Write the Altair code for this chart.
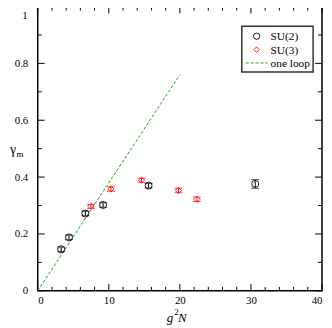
import altair as alt
import pandas as pd

# ---- data ----
su2_x = [3.3, 4.4, 6.7, 9.2, 15.6, 30.6]
su2_y = [0.146, 0.188, 0.272, 0.302, 0.370, 0.376]
su2_err = [0.008, 0.008, 0.008, 0.008, 0.008, 0.015]

su3_x = [7.5, 10.3, 14.6, 19.8, 22.4]
su3_y = [0.297, 0.358, 0.389, 0.353, 0.322]
su3_err = [0.007, 0.008, 0.007, 0.008, 0.008]

loop_x = [0, 20]
loop_y = [0, 0.76]

x_major = [0, 10, 20, 30, 40]
x_minor = [2, 4, 6, 8, 12, 14, 16, 18, 22, 24, 26, 28, 32, 34, 36, 38]
y_major = [0, 0.2, 0.4, 0.6, 0.8, 1.0]
y_minor = [0.1, 0.3, 0.5, 0.7, 0.9]

legend_labels = ["SU(2)", "SU(3)", "one loop"]

W, H = 287, 287
FONT = "Liberation Serif, Times New Roman, serif"

su2 = pd.DataFrame({"x": su2_x, "y": su2_y,
                    "lo": [a - b for a, b in zip(su2_y, su2_err)],
                    "hi": [a + b for a, b in zip(su2_y, su2_err)]})
su3 = pd.DataFrame({"x": su3_x, "y": su3_y,
                    "lo": [a - b for a, b in zip(su3_y, su3_err)],
                    "hi": [a + b for a, b in zip(su3_y, su3_err)]})
loop = pd.DataFrame({"x": loop_x, "y": loop_y})

xs = alt.Scale(domain=[0, 40], nice=False, zero=False)
ys = alt.Scale(domain=[0, 1], nice=False, zero=False)

X = alt.X("x:Q", scale=xs, axis=alt.Axis(values=x_major, title=None, ticks=False, tickSize=0,
                                         domain=False, grid=False, labelFont=FONT, labelFontSize=11,
                                         labelColor="black", labelPadding=4))
# the top label "1" is drawn as text below so that it is not cut at the page edge
Y = alt.Y("y:Q", scale=ys, axis=alt.Axis(values=y_major[:-1], title=None, ticks=False, tickSize=0,
                                         domain=False, grid=False, labelFont=FONT, labelFontSize=11,
                                         labelColor="black", labelPadding=10, format="~g"))


def errbars(df, color):
    base = alt.Chart(df)
    rule = base.mark_rule(color=color, strokeWidth=1).encode(
        x=alt.X("x:Q", scale=xs), y=alt.Y("lo:Q", scale=ys), y2="hi:Q")
    cap_lo = base.mark_tick(color=color, orient="horizontal", size=8, thickness=1).encode(
        x=alt.X("x:Q", scale=xs), y=alt.Y("lo:Q", scale=ys))
    cap_hi = base.mark_tick(color=color, orient="horizontal", size=8, thickness=1).encode(
        x=alt.X("x:Q", scale=xs), y=alt.Y("hi:Q", scale=ys))
    return [rule, cap_lo, cap_hi]


def xticks(vals, length):
    d = alt.Chart(pd.DataFrame({"v": vals}))
    bottom = d.mark_rule(color="black", strokeWidth=1).encode(
        x=alt.X("v:Q", scale=xs), y=alt.value(H), y2=alt.value(H - length))
    top = d.mark_rule(color="black", strokeWidth=1).encode(
        x=alt.X("v:Q", scale=xs), y=alt.value(0), y2=alt.value(length))
    return [bottom, top]


def yticks(vals, length):
    d = alt.Chart(pd.DataFrame({"v": vals}))
    left = d.mark_rule(color="black", strokeWidth=1).encode(
        y=alt.Y("v:Q", scale=ys), x=alt.value(0), x2=alt.value(length))
    right = d.mark_rule(color="black", strokeWidth=1).encode(
        y=alt.Y("v:Q", scale=ys), x=alt.value(W), x2=alt.value(W - length))
    return [left, right]


one = alt.Data(values=[{}])


def txt(s, x, y, size=11, style="normal", align="left", baseline="alphabetic"):
    return alt.Chart(one).mark_text(text=s, font=FONT, fontSize=size, fontStyle=style,
                                    align=align, baseline=baseline, color="black").encode(
        x=alt.value(x), y=alt.value(y))


line = alt.Chart(loop).mark_line(color="#1a9e1a", strokeWidth=1, strokeDash=[3, 2]).encode(
    x=alt.X("x:Q", scale=xs), y=alt.Y("y:Q", scale=ys))

pts2 = alt.Chart(su2).mark_point(shape="circle", filled=False, color="black", size=50,
                                 strokeWidth=0.9, opacity=1).encode(x=X, y=Y)
pts3 = alt.Chart(su3).mark_point(shape="diamond", filled=False, color="red", size=40,
                                 strokeWidth=0.9, opacity=1).encode(
    x=alt.X("x:Q", scale=xs), y=alt.Y("y:Q", scale=ys))

# legend (drawn by hand, as in the reference)
leg_box = alt.Chart(one).mark_rect(fill="white", stroke="#333333", strokeWidth=1.5).encode(
    x=alt.value(206), x2=alt.value(278), y=alt.value(20), y2=alt.value(66))
leg_c = alt.Chart(one).mark_point(shape="circle", filled=False, color="black", size=40,
                                  strokeWidth=0.9, opacity=1).encode(x=alt.value(221), y=alt.value(30))
leg_d = alt.Chart(one).mark_point(shape="diamond", filled=False, color="red", size=30,
                                  strokeWidth=0.9, opacity=1).encode(x=alt.value(221), y=alt.value(43.5))
leg_l = alt.Chart(one).mark_rule(color="#1a9e1a", strokeWidth=1, strokeDash=[3, 2]).encode(
    x=alt.value(210), x2=alt.value(232), y=alt.value(57))

layers = []
layers += xticks(x_major, 7) + xticks(x_minor, 4) + yticks(y_major, 7) + yticks(y_minor, 4)
layers += [line]
layers += errbars(su2, "black") + errbars(su3, "red")
layers += [pts2, pts3]
layers += [leg_box, leg_c, leg_d, leg_l,
           txt(legend_labels[0], 235, 34, 11.5),
           txt(legend_labels[1], 235, 47.5, 11.5),
           txt(legend_labels[2], 235, 61, 11.5)]
# top y tick label and axis titles
layers += [txt("1", -10, 4, 11, "normal", "right", "top"),
           txt("g", 133.5, 318, 13, "italic", "center"),
           txt("2", 140, 311, 9, "normal", "center"),
           txt("N", 146, 318, 13, "italic", "center"),
           txt("γ", -25, 149, 14, "normal", "center"),
           txt("m", -18, 152, 9, "normal", "center")]

chart = alt.layer(*layers).properties(
    width=W, height=H,
    autosize="none",
    padding={"left": 30, "top": -3, "right": 2, "bottom": 33},
).configure_view(stroke="black", strokeWidth=1.5)

chart.save("out.html", embed_options={"renderer": "svg", "actions": False})
